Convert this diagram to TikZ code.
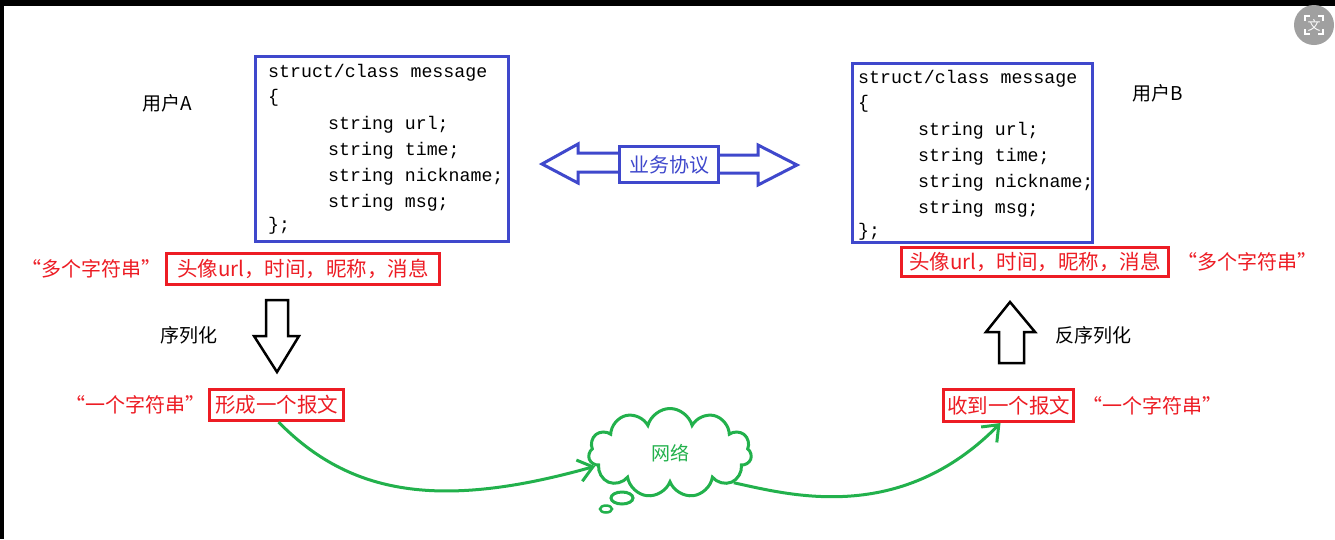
\documentclass[tikz,border=0pt]{standalone}
\usepackage{fontspec}
\newfontfamily\cjk{Noto Sans CJK SC}
\newfontfamily\cjkq[RawFeature=+fwid]{Noto Sans CJK SC}
\newfontfamily\codefont{Liberation Mono}
\usetikzlibrary{positioning,shapes.symbols,arrows.meta}
\definecolor{pblue}{HTML}{3F48CC}
\definecolor{pred}{HTML}{ED1C24}
\definecolor{pgreen}{HTML}{22B14C}
\definecolor{pgrey}{HTML}{A0A0A0}
\begin{document}
\begin{tikzpicture}[x=1pt,y=-1pt,
  codebox/.style={draw=pblue,line width=3pt,inner sep=0pt},
  codeline/.style={anchor=base west,inner sep=0pt,font=\codefont\fontsize{18.25}{22}\selectfont},
  redbox/.style={draw=pred,line width=3pt,text=pred,inner sep=0pt,font=\cjk\fontsize{20.5}{24}\selectfont},
  redtext/.style={text=pred,inner sep=0pt,font=\cjkq\fontsize{20}{24}\selectfont},
  plain/.style={inner sep=0pt,font=\cjk\fontsize{19}{23}\selectfont},
  hollow/.style={draw,line width=2.5pt,fill=white,line join=miter},
  bluearrow/.style={draw=pblue,line width=3pt,line join=miter},
  wire/.style={pgreen,line width=3pt,-{Straight Barb[length=14pt,width=22pt]}}]
\useasboundingbox (0,0) rectangle (1335,539);
\fill[white] (0,0) rectangle (1335,539);
\fill[black] (0,0) rectangle (1335,6);
\fill[black] (0,0) rectangle (4,539);

% user A
\node[plain] (userA) at (167,103) {用户A};
\node[codebox,minimum width=253,minimum height=185] (msgA) at (381.5,148.5) {};
\node[codeline] (topA) at (268,77) {struct/class message};
\node[codeline] (openA) at (268,102) {\{};
\foreach \f [count=\i] in {url,time,nickname,msg}
  \node[codeline] (fieldA\i) at (328,103+26*\i) {string \f;};
\node[codeline] (closeA) at (268,230) {\};};
\node[redbox,minimum width=273,minimum height=31] (faceA) at (303,269) {头像url，时间，昵称，消息};
\node[redtext,left=3pt of faceA] (manyA) {“多个字符串”};
\draw[hollow] (266,300) -- (288,300) -- (288,336) -- (299,336) -- (277,372) -- (254,336) -- (266,336) -- cycle;
\node[plain] (ser) at (188.5,335) {序列化};
\node[redbox,minimum width=134,minimum height=31] (packA) at (276.5,405) {形成一个报文};
\node[redtext,left=2pt of packA] (oneA) {“一个字符串”};

% protocol
\draw[bluearrow] (618,153) -- (578,153) -- (578,144) -- (542,164) -- (578,183) -- (578,172) -- (618,172);
\draw[bluearrow] (720,155) -- (758,155) -- (758,145) -- (797,165) -- (758,185) -- (758,173) -- (720,173);
\node[draw=pblue,line width=3pt,fill=white,text=pblue,minimum width=99,minimum height=36,inner sep=0pt,
  font=\cjk\fontsize{20}{24}\selectfont] (proto) at (669,164.5) {业务协议};

% user B
\node[plain] (userB) at (1158,93) {用户B};
\node[codebox,minimum width=240,minimum height=179] (msgB) at (972.5,153) {};
\node[codeline] (topB) at (858,83) {struct/class message};
\node[codeline] (openB) at (858,108) {\{};
\foreach \f [count=\i] in {url,time,nickname,msg}
  \node[codeline] (fieldB\i) at (918,109+26*\i) {string \f;};
\node[codeline] (closeB) at (858,236) {\};};
\node[redbox,minimum width=267,minimum height=29] (faceB) at (1035,262) {头像url，时间，昵称，消息};
\node[redtext,right=7pt of faceB] (manyB) {“多个字符串”};
\draw[hollow] (999,363) -- (1024,363) -- (1024,332) -- (1035,332) -- (1010,302) -- (986,332) -- (999,332) -- cycle;
\node[plain] (deser) at (1093,335) {反序列化};
\node[redbox,minimum width=130,minimum height=32] (recvB) at (1008.5,405.5) {收到一个报文};
\node[redtext,right=7pt of recvB] (oneB) {“一个字符串”};

% network
\node[cloud,draw=pgreen,line width=3pt,cloud puffs=11,aspect=1.8,minimum width=163,minimum height=89,
  inner sep=0pt,text=pgreen,font=\cjk\fontsize{19}{23}\selectfont] (net) at (670,453) {网络};
\draw[pgreen,line width=3pt] (622,498) ellipse (11 and 6);
\draw[pgreen,line width=2.5pt] (606,509) ellipse (6 and 3.5);
\draw[wire] ([xshift=2pt]packA.south) .. controls (350,495) and (440,510) .. (net.190);
\draw[wire] (net.335) .. controls (790,495) and (900,525) .. ([xshift=-8pt]recvB.south);

% corner icon
\fill[pgrey] (1314,25) circle (20);
\node[text=white,inner sep=0pt,font=\cjk\fontsize{13}{13}\selectfont] (trans) at (1314,25) {文};
\foreach \sx/\sy in {-1/-1,1/-1,-1/1,1/1}
  \draw[white,line width=1.2pt] (1314+9*\sx,25+4*\sy) -- (1314+9*\sx,25+9*\sy) -- (1314+4*\sx,25+9*\sy);
\end{tikzpicture}
\end{document}
